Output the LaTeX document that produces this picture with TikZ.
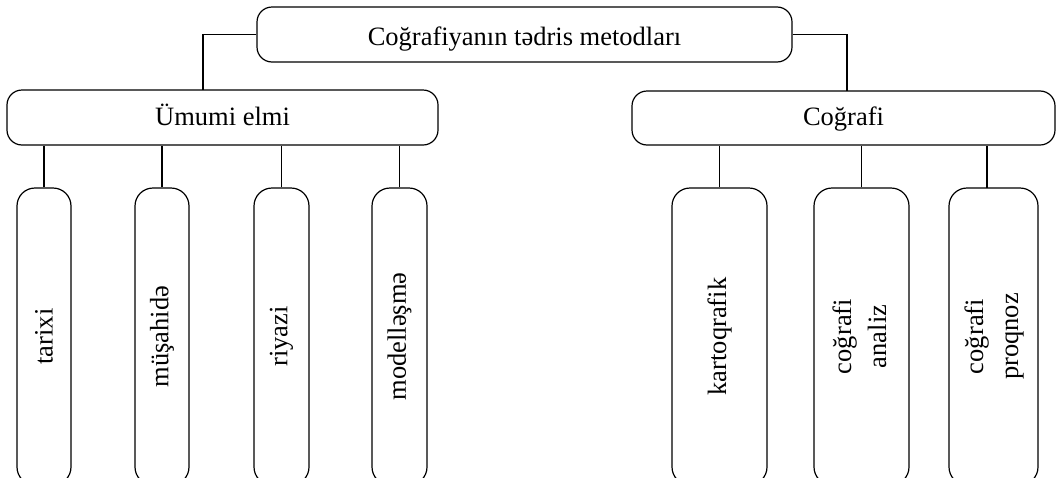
\documentclass[tikz,border=0pt]{standalone}
\usepackage{fontspec}
\setmainfont{Liberation Serif}
\usepackage{graphicx}
\begin{document}
\begin{tikzpicture}[x=1pt,y=-1pt,
  box/.style={draw, line width=1.2pt, rounded corners=15pt, inner sep=0pt, minimum height=55pt,
    text height=20pt, text depth=5pt},
  leaf/.style={draw, line width=1.2pt, rounded corners=18pt, inner sep=0pt, minimum height=297pt},
  wire/.style={line width=1.2pt},
  font=\fontsize{26.5}{35}\selectfont]
\useasboundingbox (0,0) rectangle (1057,477);
\clip (0,0) rectangle (1057,477);

% root and the two method groups
\node[box, minimum width=535pt, text height=25pt, text depth=3pt] (top) at (524.5,34.5)
  {Coğrafiyanın tədris metodları};
\node[box, minimum width=431pt] (gen) at (222.5,117.5) {Ümumi elmi};
\node[box, minimum width=423pt, minimum height=54pt] (geo) at (843.5,118) {Coğrafi};

% general scientific methods
\node[leaf, minimum width=54pt] (tarixi) at (44,336.5) {\rotatebox{90}{tarixi}};
\node[leaf, minimum width=54pt] (musahide) at (162,336.5) {\rotatebox{90}{müşahidə}};
\node[leaf, minimum width=55pt] (riyazi) at (281.5,336.5) {\rotatebox{90}{riyazi}};
\node[leaf, minimum width=55pt] (modelleshme) at (399.5,336.5) {\rotatebox{90}{modelləşmə}};

% geographic methods
\node[leaf, minimum width=95pt] (kartoqrafik) at (719.5,336.5) {\rotatebox{90}{kartoqrafik}};
\node[leaf, minimum width=95pt] (analiz) at (861.5,336.5)
  {\rotatebox{90}{\begin{tabular}{@{}c@{}}coğrafi\\analiz\end{tabular}}};
\node[leaf, minimum width=89pt] (proqnoz) at (993.5,336.5)
  {\rotatebox{90}{\begin{tabular}{@{}c@{}}coğrafi\\proqnoz\end{tabular}}};

% connectors from the root
\coordinate (genjoin) at (203,90);
\coordinate (geojoin) at (847,91);
\draw[wire] (top.west) -| (genjoin);
\draw[wire] (top.east) -| (geojoin);

% connectors to the leaves
\foreach \n in {tarixi,musahide,riyazi,modelleshme}
  \draw[wire] (\n.north) -- (\n.north |- gen.south);
\foreach \n in {kartoqrafik,analiz}
  \draw[wire] (\n.north) -- (\n.north |- geo.south);
\coordinate (proqjoin) at (987,188);
\draw[wire] (proqjoin) -- (proqjoin |- geo.south);
\end{tikzpicture}
\end{document}
